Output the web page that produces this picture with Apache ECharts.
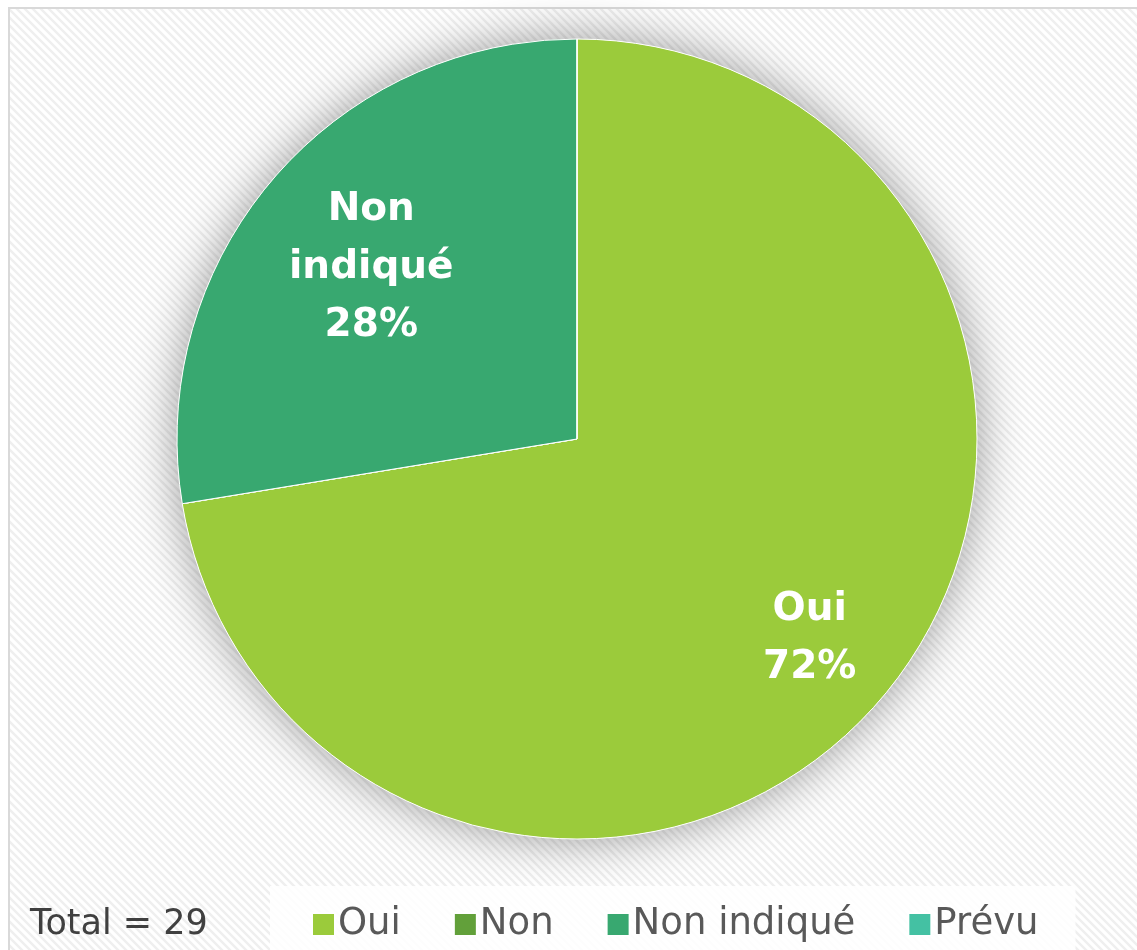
<!DOCTYPE html>
<html>
<head>
<meta charset="utf-8">
<script src="https://cdn.jsdelivr.net/npm/echarts@6/dist/echarts.min.js"></script>
<style>
html, body { margin: 0; padding: 0; background: #fff; }
#chart { width: 1137px; height: 950px; }
</style>
</head>
<body>
<div id="chart"></div>
<script>
// categories and values (n = 29)
var categories = ['Oui', 'Non', 'Non indiqué', 'Prévu'];
var counts = [21, 0, 8, 0];
var colors = ['#9BCB3B', '#62A03A', '#38A870', '#44C1A3'];
var totalText = 'Total = 29';

// diagonal hatch for the background
function hatch() {
	var c = document.createElement('canvas');
	c.width = 8;
	c.height = 8;
	var ctx = c.getContext('2d');
	ctx.fillStyle = '#ffffff';
	ctx.fillRect(0, 0, 8, 8);
	ctx.strokeStyle = '#efefef';
	ctx.lineWidth = 2.5;
	ctx.beginPath();
	ctx.moveTo(-2, -2); ctx.lineTo(10, 10);
	ctx.moveTo(-2, 6); ctx.lineTo(2, 10);
	ctx.moveTo(6, -2); ctx.lineTo(10, 2);
	ctx.stroke();
	return c;
}

var myChart = echarts.init(document.getElementById('chart'));

var pieData = categories.map(function (name, i) {
	return { name: name, value: counts[i], itemStyle: { color: colors[i] } };
});
// label nudges to match the original placement
pieData[0].label = { offset: [78, 68] };
pieData[2].label = { offset: [-51, -40] };

var option = {
	animation: false,
	graphic: [{
		type: 'rect',
		z: -10,
		shape: { x: 9, y: 8, width: 1140, height: 960 },
		style: { fill: { image: hatch(), repeat: 'repeat' }, stroke: '#d9d9d9', lineWidth: 2 }
	}],
	title: {
		text: totalText,
		left: 25,
		top: 902,
		textStyle: { fontFamily: 'DejaVu Sans', fontSize: 35, fontWeight: 'normal', color: '#404040' }
	},
	legend: {
		data: categories,
		left: 270,
		top: 886,
		padding: [20, 37, 20, 41],
		backgroundColor: 'rgba(255,255,255,0.85)',
		icon: 'rect',
		itemWidth: 23,
		itemHeight: 23,
		itemGap: 52,
		textStyle: { fontFamily: 'DejaVu Sans', fontSize: 37, color: '#595959', padding: [0, 0, 0, -2] }
	},
	series: [{
		// soft shadow disc under the pie
		type: 'pie',
		name: 'shadow',
		silent: true,
		center: [577, 439],
		radius: 400,
		z: 1,
		label: { show: false },
		labelLine: { show: false },
		itemStyle: { color: '#ffffff', shadowBlur: 48, shadowColor: 'rgba(0,0,0,0.4)' },
		data: [{ name: 'shadow', value: 1 }]
	}, {
		type: 'pie',
		name: 'Réponses',
		center: [577, 439],
		radius: 400,
		startAngle: 90,
		clockwise: true,
		z: 2,
		itemStyle: { borderColor: '#ffffff', borderWidth: 1 },
		label: {
			position: 'inside',
			color: '#ffffff',
			fontFamily: 'DejaVu Sans',
			fontWeight: 'bold',
			fontSize: 39,
			lineHeight: 58,
			formatter: function (p) {
				if (!p.value) return '';
				return p.name.replace(' ', '\n') + '\n' + Math.round(p.percent) + '%';
			}
		},
		labelLine: { show: false },
		data: pieData
	}]
};
myChart.setOption(option);
</script>
</body>
</html>
